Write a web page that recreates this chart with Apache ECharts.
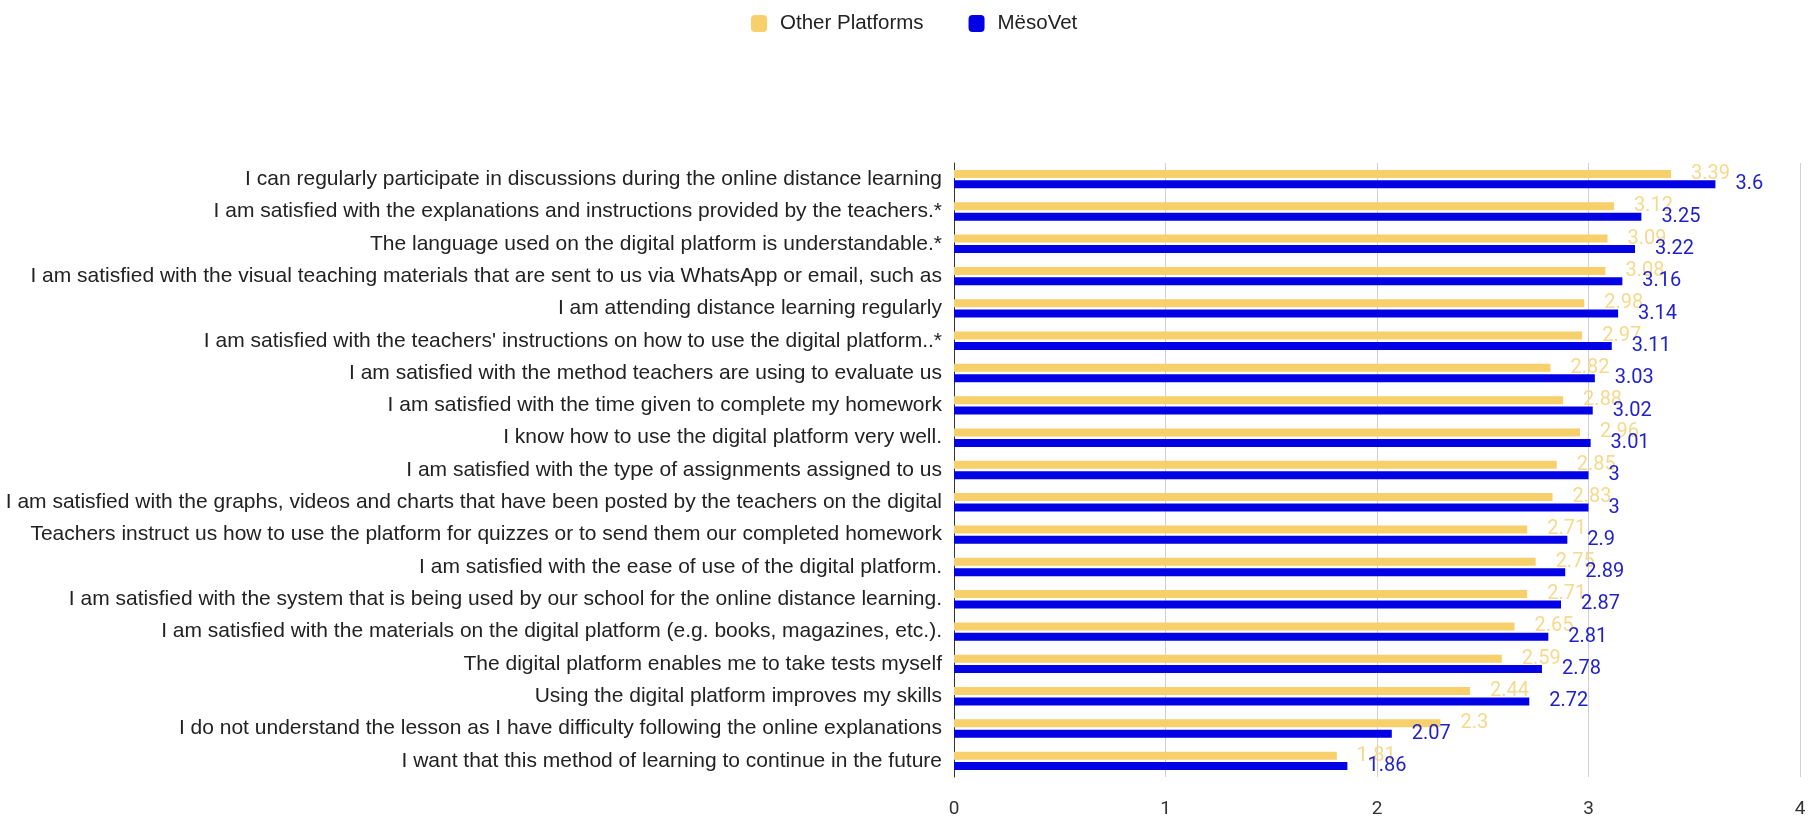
<!DOCTYPE html>
<html>
	<head>
		<meta charset="UTF-8">
		<title>Other Platforms vs MësoVet</title>
		<style>
			body {
				margin: 0;
				background: #fff;
			}
			.box {
				width: 1813px;
				height: 821px;
			}
		</style>
	</head>
	<body>
		<div class="box" id="main"></div>
	</body>
</html>
<script type="text/javascript" src="https://cdn.jsdelivr.net/npm/echarts@6/dist/echarts.min.js"></script>
<script>
	// statements, listed top to bottom as in the chart
	var categories = [
		'I can regularly participate in discussions during the online distance learning',
		'I am satisfied with the explanations and instructions provided by the teachers.*',
		'The language used on the digital platform is understandable.*',
		'I am satisfied with the visual teaching materials that are sent to us via WhatsApp or email, such as',
		'I am attending distance learning regularly',
		'I am satisfied with the teachers\' instructions on how to use the digital platform..*',
		'I am satisfied with the method teachers are using to evaluate us',
		'I am satisfied with the time given to complete my homework',
		'I know how to use the digital platform very well.',
		'I am satisfied with the type of assignments assigned to us',
		'I am satisfied with the graphs, videos and charts that have been posted by the teachers on the digital',
		'Teachers instruct us how to use the platform for quizzes or to send them our completed homework',
		'I am satisfied with the ease of use of the digital platform.',
		'I am satisfied with the system that is being used by our school for the online distance learning.',
		'I am satisfied with the materials on the digital platform (e.g. books, magazines, etc.).',
		'The digital platform enables me to take tests myself',
		'Using the digital platform improves my skills',
		'I do not understand the lesson as I have difficulty following the online explanations',
		'I want that this method of learning to continue in the future'
	];
	var otherPlatforms = [3.39, 3.12, 3.09, 3.08, 2.98, 2.97, 2.82, 2.88, 2.96, 2.85, 2.83, 2.71, 2.75, 2.71, 2.65, 2.59, 2.44, 2.3, 1.81];
	var mesoVet = [3.6, 3.25, 3.22, 3.16, 3.14, 3.11, 3.03, 3.02, 3.01, 3, 3, 2.9, 2.89, 2.87, 2.81, 2.78, 2.72, 2.07, 1.86];

	var myChart = echarts.init(document.getElementById('main'));

	var option = {
		backgroundColor: '#fff',
		legend: {
			left: 746,
			top: 8,
			itemWidth: 16,
			itemHeight: 17,
			itemGap: 45,
			icon: 'roundRect',
			textStyle: {
				fontFamily: 'Liberation Sans',
				fontSize: 20.5,
				color: '#222',
				padding: [0, 0, 0, 8]
			},
			data: ['Other Platforms', 'MësoVet']
		},
		grid: {
			left: 954,
			right: 13,
			top: 163,
			bottom: 44,
			outerBoundsMode: 'none'
		},
		xAxis: {
			type: 'value',
			min: 0,
			max: 4,
			interval: 1,
			axisLine: { show: false },
			axisTick: { show: false },
			axisLabel: {
				margin: 23,
				fontFamily: 'Roboto',
				fontSize: 19,
				color: '#333'
			},
			splitLine: {
				lineStyle: { color: '#d0d0d0' }
			}
		},
		yAxis: {
			type: 'category',
			inverse: true,
			data: categories,
			axisLine: {
				lineStyle: { color: '#333', width: 1 }
			},
			axisTick: { show: false },
			axisLabel: {
				margin: 12,
				fontFamily: 'Liberation Sans',
				fontSize: 21,
				color: '#222'
			}
		},
		series: [
			{
				name: 'Other Platforms',
				type: 'bar',
				data: otherPlatforms,
				barWidth: 8,
				barGap: '30%',
				itemStyle: { color: '#f7cf6b' },
				label: {
					show: true,
					position: 'right',
					distance: 20,
					fontFamily: 'Roboto',
					fontSize: 20,
					color: '#f6d98c'
				}
			},
			{
				name: 'MësoVet',
				type: 'bar',
				data: mesoVet,
				barWidth: 8,
				itemStyle: { color: '#0202e4' },
				label: {
					show: true,
					position: 'right',
					distance: 20,
					fontFamily: 'Roboto',
					fontSize: 20,
					color: '#2222c8'
				}
			}
		]
	};
	myChart.setOption(option);
</script>
